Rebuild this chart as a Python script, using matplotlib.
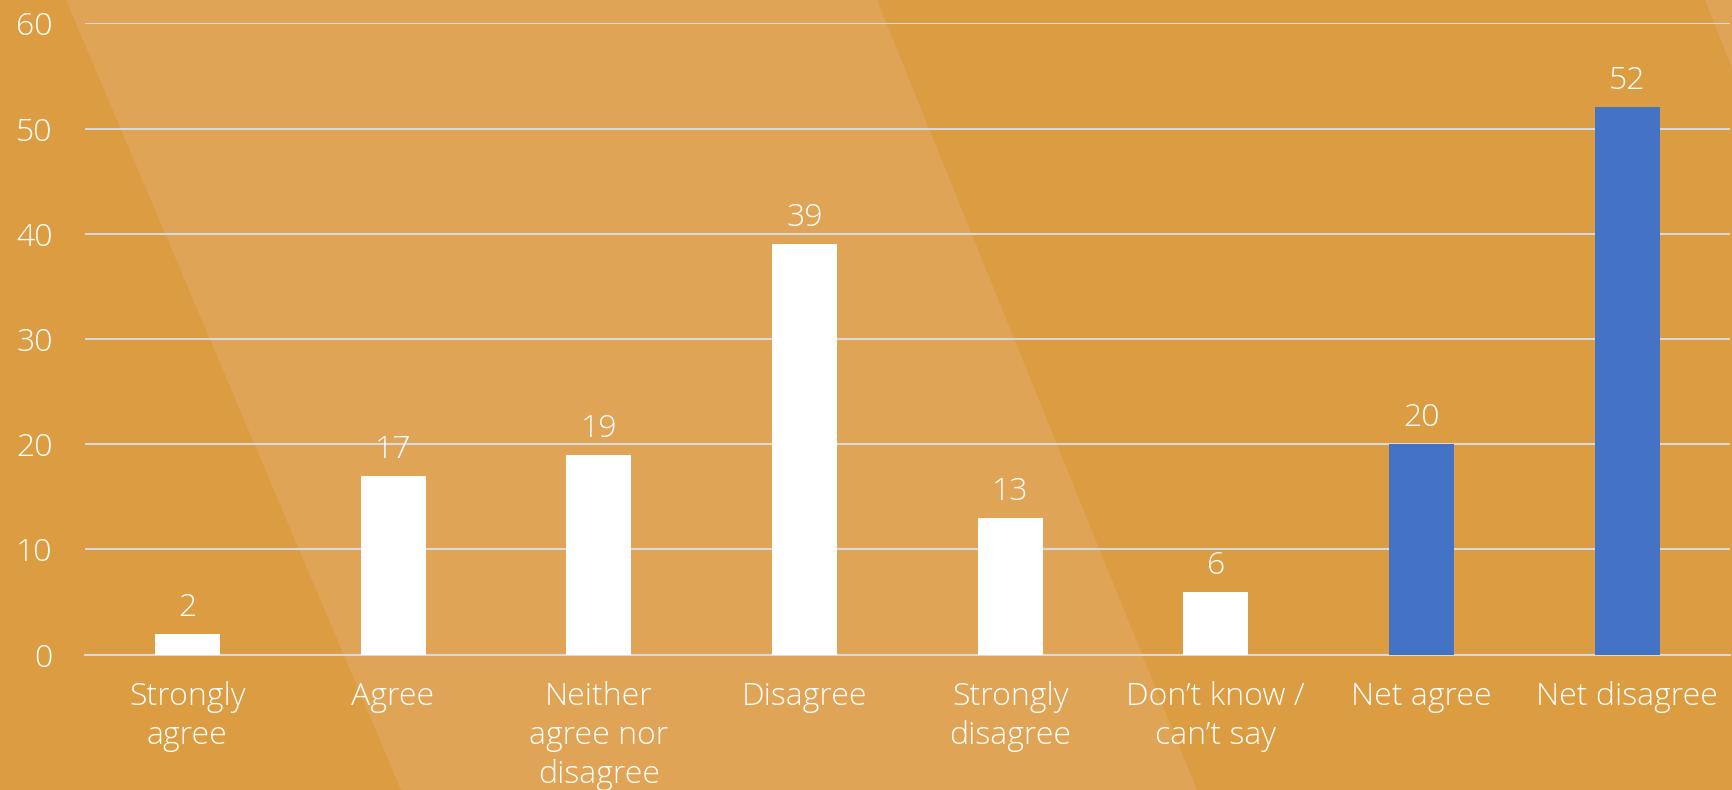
import matplotlib
matplotlib.use("Agg")
import matplotlib.pyplot as plt
from matplotlib.patches import Polygon

# Survey responses (%)
categories = [
    "Strongly\nagree",
    "Agree",
    "Neither\nagree nor\ndisagree",
    "Disagree",
    "Strongly\ndisagree",
    "Don\u2019t know /\ncan\u2019t say",
    "Net agree",
    "Net disagree",
]
values = [2, 17, 19, 39, 13, 6, 20, 52]
is_net = [False, False, False, False, False, False, True, True]
y_ticks = [0, 10, 20, 30, 40, 50, 60]

BG = "#DB9C42"
BAND = "#DFA456"
GRID = "#D9D9D9"
WHITE = "#FFFFFF"
BLUE = "#4472C4"

plt.rcParams["font.family"] = ["Open Sans", "DejaVu Sans"]
FS = 23

W, H = 1732, 790
fig = plt.figure(figsize=(W / 100, H / 100), dpi=100, facecolor=BG)

# Decorative lighter diagonal bands behind the chart (pixel coords -> figure fraction)
def px(points):
    return [(x / W, 1 - y / H) for x, y in points]

fig.patches.append(Polygon(px([(66, 0), (877, 0), (1197, 790), (401, 790)]),
                           closed=True, transform=fig.transFigure,
                           facecolor=BAND, edgecolor="none", zorder=-5))
fig.patches.append(Polygon(px([(1705, 0), (1732, 0), (1732, 68)]),
                           closed=True, transform=fig.transFigure,
                           facecolor=BAND, edgecolor="none", zorder=-5))

ax = fig.add_axes([84.5 / W, 1 - 654.7 / H, (1730 - 84.5) / W, (654.7 - 23.3) / H])
ax.set_facecolor("none")
ax.set_zorder(2)

x = list(range(len(categories)))
colors = [BLUE if n else WHITE for n in is_net]
bars = ax.bar(x, values, width=0.316, color=colors, zorder=3)

for xi, v in zip(x, values):
    ax.annotate(f"{v}", xy=(xi, v), xytext=(0, 13), textcoords="offset points",
                ha="center", va="baseline", color=WHITE, fontsize=FS,
                fontweight="light")

ax.set_xlim(-0.5, len(categories) - 0.5)
ax.set_ylim(0, 60)
ax.set_yticks(y_ticks)
ax.set_xticks(x)
ax.set_xticklabels(categories, fontsize=FS, color=WHITE, linespacing=1.3,
                   fontweight="light", multialignment="center")
ax.set_yticklabels([str(t) for t in y_ticks], fontsize=FS, color=WHITE,
                   fontweight="light")
ax.tick_params(axis="both", length=0)
ax.tick_params(axis="y", pad=23)
ax.tick_params(axis="x", pad=19)

ax.grid(axis="y", color=GRID, linewidth=1.5, zorder=1)
ax.set_axisbelow(True)
for side in ["top", "right", "left"]:
    ax.spines[side].set_visible(False)
ax.spines["bottom"].set_color(GRID)
ax.spines["bottom"].set_linewidth(1.5)

fig.savefig("out.png", dpi=100, facecolor=BG)
